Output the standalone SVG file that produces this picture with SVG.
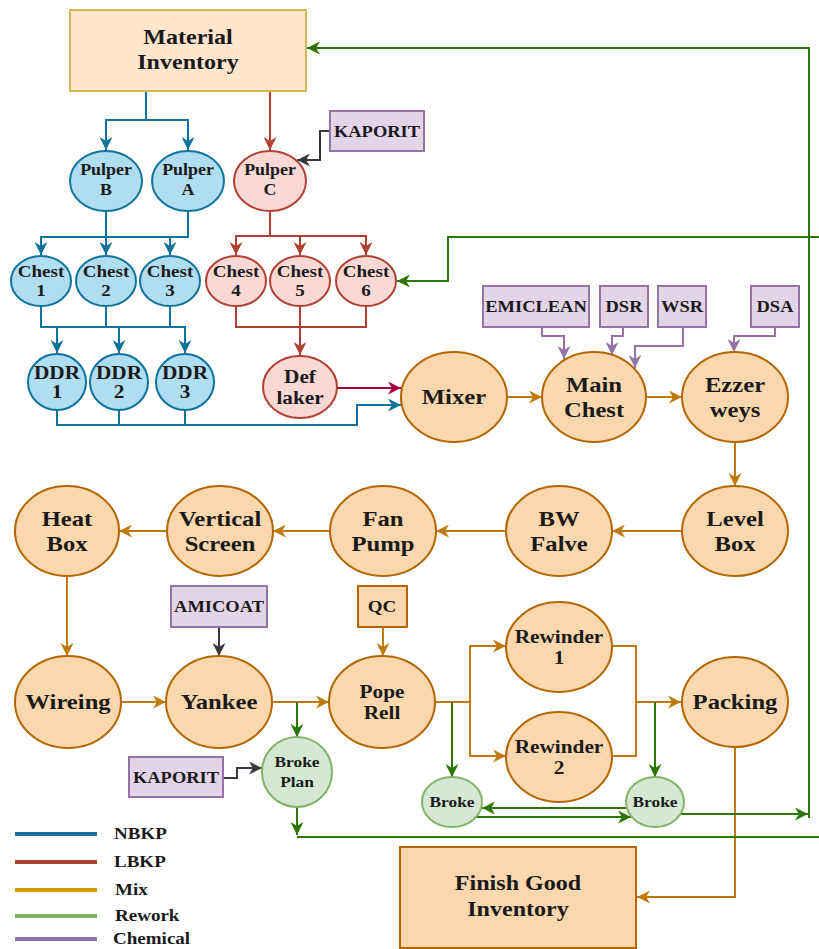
<svg xmlns="http://www.w3.org/2000/svg" width="819" height="949" viewBox="0 0 819 949">
<style>
text{font-family:"Liberation Serif","Times New Roman",serif;font-weight:bold;fill:#1a1a1a;text-anchor:middle}
.or{fill:#fad7ac;stroke:#b46504;stroke-width:2}
.bl{fill:#b1ddf0;stroke:#10739e;stroke-width:2}
.rd{fill:#fad9d5;stroke:#ae4132;stroke-width:2}
.gr{fill:#d5e8d4;stroke:#82b366;stroke-width:2}
.pu{fill:#e1d5e7;stroke:#9673a6;stroke-width:2}
.inv{fill:#ffe6cc;stroke:#d6b656;stroke-width:2}
.c{fill:none;stroke-width:2}
.cb{stroke:#10739e}.cr{stroke:#ae4132}.co{stroke:#c07a0c}.cg{stroke:#2d7600}.ck{stroke:#36393d}.cp{stroke:#9673a6}.cm{stroke:#a50040}
.big{font-size:22px}.mid{font-size:19px}.sm{font-size:17px}.pl{font-size:16px}.xs{font-size:15.5px}.ch{font-size:16.5px}
</style>
<defs>
<marker id="aB" markerUnits="userSpaceOnUse" markerWidth="13" markerHeight="13" viewBox="0 0 10 10" refX="10" refY="5" orient="auto"><path d="M0,0 L10,5 L0,10 L3,5z" fill="#10739e"/></marker>
<marker id="aR" markerUnits="userSpaceOnUse" markerWidth="13" markerHeight="13" viewBox="0 0 10 10" refX="10" refY="5" orient="auto"><path d="M0,0 L10,5 L0,10 L3,5z" fill="#ae4132"/></marker>
<marker id="aO" markerUnits="userSpaceOnUse" markerWidth="13" markerHeight="13" viewBox="0 0 10 10" refX="10" refY="5" orient="auto"><path d="M0,0 L10,5 L0,10 L3,5z" fill="#c07a0c"/></marker>
<marker id="aG" markerUnits="userSpaceOnUse" markerWidth="13" markerHeight="13" viewBox="0 0 10 10" refX="10" refY="5" orient="auto"><path d="M0,0 L10,5 L0,10 L3,5z" fill="#2d7600"/></marker>
<marker id="aK" markerUnits="userSpaceOnUse" markerWidth="13" markerHeight="13" viewBox="0 0 10 10" refX="10" refY="5" orient="auto"><path d="M0,0 L10,5 L0,10 L3,5z" fill="#36393d"/></marker>
<marker id="aP" markerUnits="userSpaceOnUse" markerWidth="13" markerHeight="13" viewBox="0 0 10 10" refX="10" refY="5" orient="auto"><path d="M0,0 L10,5 L0,10 L3,5z" fill="#9673a6"/></marker>
<marker id="aM" markerUnits="userSpaceOnUse" markerWidth="13" markerHeight="13" viewBox="0 0 10 10" refX="10" refY="5" orient="auto"><path d="M0,0 L10,5 L0,10 L3,5z" fill="#a50040"/></marker>
</defs>

<g id="connectors">
<path class="c cb" d="M146,91 V120 H106 V150" marker-end="url(#aB)"/>
<path class="c cb" d="M146,120 H188 V150" marker-end="url(#aB)"/>
<path class="c cb" d="M106,211 V237"/>
<path class="c cb" d="M188,211 V237 H41 V255" marker-end="url(#aB)"/>
<path class="c cb" d="M106,237 V255" marker-end="url(#aB)"/>
<path class="c cb" d="M170,237 V255" marker-end="url(#aB)"/>
<path class="c cb" d="M41,306 V327 H185 V353" marker-end="url(#aB)"/>
<path class="c cb" d="M106,306 V327"/>
<path class="c cb" d="M170,306 V327"/>
<path class="c cb" d="M57,327 V353" marker-end="url(#aB)"/>
<path class="c cb" d="M119,327 V353" marker-end="url(#aB)"/>
<path class="c cb" d="M57,410 V425 H357 V405 H401" marker-end="url(#aB)"/>
<path class="c cb" d="M119,410 V425"/>
<path class="c cb" d="M185,410 V425"/>
<path class="c cr" d="M270,91 V150" marker-end="url(#aR)"/>
<path class="c cr" d="M270,211 V236 H236 V255" marker-end="url(#aR)"/>
<path class="c cr" d="M270,236 H366 V255" marker-end="url(#aR)"/>
<path class="c cr" d="M300,236 V255" marker-end="url(#aR)"/>
<path class="c cr" d="M236,306 V327 H366 V306"/>
<path class="c cr" d="M300,306 V355" marker-end="url(#aR)"/>
<path class="c cm" d="M337,388 H401" marker-end="url(#aM)"/>
<path class="c ck" d="M330,131 H320 V160 H297" marker-end="url(#aK)"/>
<path class="c cp" d="M542,327 V336 H564 V359" marker-end="url(#aP)"/>
<path class="c cp" d="M623,327 V336 H612 V355" marker-end="url(#aP)"/>
<path class="c cp" d="M683,327 V346 H635 V368" marker-end="url(#aP)"/>
<path class="c cp" d="M775,327 V336 H734 V352" marker-end="url(#aP)"/>
<path class="c ck" d="M219,627 V656" marker-end="url(#aK)"/>
<path class="c ck" d="M223,778 H237 V768 H262" marker-end="url(#aK)"/>
<path class="c co" d="M507,397 H542" marker-end="url(#aO)"/>
<path class="c co" d="M646,397 H682" marker-end="url(#aO)"/>
<path class="c co" d="M735,442 V486" marker-end="url(#aO)"/>
<path class="c co" d="M682,531 H612" marker-end="url(#aO)"/>
<path class="c co" d="M506,531 H436" marker-end="url(#aO)"/>
<path class="c co" d="M330,531 H273" marker-end="url(#aO)"/>
<path class="c co" d="M167,531 H119" marker-end="url(#aO)"/>
<path class="c co" d="M67,576 V656" marker-end="url(#aO)"/>
<path class="c co" d="M383,627 V656" marker-end="url(#aO)"/>
<path class="c co" d="M121,702 H166" marker-end="url(#aO)"/>
<path class="c co" d="M272,702 H329" marker-end="url(#aO)"/>
<path class="c co" d="M435,702 H470 V646 H506" marker-end="url(#aO)"/>
<path class="c co" d="M470,702 V756 H506" marker-end="url(#aO)"/>
<path class="c co" d="M612,646 H636 V756 H612"/>
<path class="c co" d="M636,702 H681" marker-end="url(#aO)"/>
<path class="c co" d="M735,747 V897 H637" marker-end="url(#aO)"/>
<path class="c cg" d="M297,702 V737" marker-end="url(#aG)"/>
<path class="c cg" d="M297,807 V835" marker-end="url(#aG)"/>
<path class="c cg" d="M297,837 H830 V237 H448 V281 H397" marker-end="url(#aG)"/>
<path class="c cg" d="M452,702 V777" marker-end="url(#aG)"/>
<path class="c cg" d="M655,702 V777" marker-end="url(#aG)"/>
<path class="c cg" d="M626,808 H482" marker-end="url(#aG)"/>
<path class="c cg" d="M476,817 H631" marker-end="url(#aG)"/>
<path class="c cg" d="M681,814 H808" marker-end="url(#aG)"/>
<path class="c cg" d="M809,818 V48 H307" marker-end="url(#aG)"/>
</g>

<g id="material-inventory"><rect class="inv" x="70" y="10" width="236" height="81"/>
<text style="font-size:21.5px" transform="translate(188,0) scale(1.12,1)"><tspan x="0" y="44">Material</tspan><tspan x="0" y="69">Inventory</tspan></text></g>

<g id="pulper-b"><ellipse class="bl" cx="106" cy="181" rx="36" ry="30"/><text class="pl" transform="translate(106,0) scale(1.12,1)"><tspan x="0" y="175">Pulper</tspan><tspan x="0" y="195">B</tspan></text></g>
<g id="pulper-a"><ellipse class="bl" cx="188" cy="181" rx="36" ry="30"/><text class="pl" transform="translate(188,0) scale(1.12,1)"><tspan x="0" y="175">Pulper</tspan><tspan x="0" y="195">A</tspan></text></g>
<g id="pulper-c"><ellipse class="rd" cx="270" cy="181" rx="36" ry="30"/><text class="pl" transform="translate(270,0) scale(1.12,1)"><tspan x="0" y="175">Pulper</tspan><tspan x="0" y="195">C</tspan></text></g>
<g id="kaporit-1"><rect class="pu" x="330" y="111" width="94" height="40"/><text class="ch" transform="translate(377,0) scale(1.12,1)" x="0" y="137">KAPORIT</text></g>

<g id="chest-1"><ellipse class="bl" cx="41" cy="281" rx="30" ry="25"/><text class="sm" transform="translate(41,0) scale(1.12,1)"><tspan x="0" y="277">Chest</tspan><tspan x="0" y="296">1</tspan></text></g>
<g id="chest-2"><ellipse class="bl" cx="106" cy="281" rx="30" ry="25"/><text class="sm" transform="translate(106,0) scale(1.12,1)"><tspan x="0" y="277">Chest</tspan><tspan x="0" y="296">2</tspan></text></g>
<g id="chest-3"><ellipse class="bl" cx="170" cy="281" rx="30" ry="25"/><text class="sm" transform="translate(170,0) scale(1.12,1)"><tspan x="0" y="277">Chest</tspan><tspan x="0" y="296">3</tspan></text></g>
<g id="chest-4"><ellipse class="rd" cx="236" cy="281" rx="30" ry="25"/><text class="sm" transform="translate(236,0) scale(1.12,1)"><tspan x="0" y="277">Chest</tspan><tspan x="0" y="296">4</tspan></text></g>
<g id="chest-5"><ellipse class="rd" cx="300" cy="281" rx="30" ry="25"/><text class="sm" transform="translate(300,0) scale(1.12,1)"><tspan x="0" y="277">Chest</tspan><tspan x="0" y="296">5</tspan></text></g>
<g id="chest-6"><ellipse class="rd" cx="366" cy="281" rx="30" ry="25"/><text class="sm" transform="translate(366,0) scale(1.12,1)"><tspan x="0" y="277">Chest</tspan><tspan x="0" y="296">6</tspan></text></g>

<g id="ddr-1"><ellipse class="bl" cx="57" cy="382" rx="29" ry="28"/><text class="mid" transform="translate(57,0) scale(1.12,1)"><tspan x="0" y="379">DDR</tspan><tspan x="0" y="398">1</tspan></text></g>
<g id="ddr-2"><ellipse class="bl" cx="119" cy="382" rx="29" ry="28"/><text class="mid" transform="translate(119,0) scale(1.12,1)"><tspan x="0" y="379">DDR</tspan><tspan x="0" y="398">2</tspan></text></g>
<g id="ddr-3"><ellipse class="bl" cx="185" cy="382" rx="29" ry="28"/><text class="mid" transform="translate(185,0) scale(1.12,1)"><tspan x="0" y="379">DDR</tspan><tspan x="0" y="398">3</tspan></text></g>
<g id="def-laker"><ellipse class="rd" cx="300" cy="387" rx="37" ry="31"/><text class="mid" transform="translate(300,0) scale(1.12,1)"><tspan x="0" y="383">Def</tspan><tspan x="0" y="404">laker</tspan></text></g>

<g id="emiclean"><rect class="pu" x="483" y="286" width="106" height="41"/><text class="ch" transform="translate(536,0) scale(1.12,1)" x="0" y="312">EMICLEAN</text></g>
<g id="dsr"><rect class="pu" x="600" y="286" width="48" height="41"/><text class="ch" transform="translate(624,0) scale(1.12,1)" x="0" y="312">DSR</text></g>
<g id="wsr"><rect class="pu" x="658" y="286" width="48" height="41"/><text class="ch" transform="translate(682,0) scale(1.12,1)" x="0" y="312">WSR</text></g>
<g id="dsa"><rect class="pu" x="751" y="286" width="48" height="41"/><text class="ch" transform="translate(775,0) scale(1.12,1)" x="0" y="312">DSA</text></g>

<g id="mixer"><ellipse class="or" cx="454" cy="397" rx="53" ry="45"/><text class="big" transform="translate(454,0) scale(1.12,1)" x="0" y="404">Mixer</text></g>
<g id="main-chest"><ellipse class="or" cx="594" cy="397" rx="52" ry="45"/><text class="big" transform="translate(594,0) scale(1.12,1)"><tspan x="0" y="392">Main</tspan><tspan x="0" y="417">Chest</tspan></text></g>
<g id="ezzer-weys"><ellipse class="or" cx="735" cy="397" rx="53" ry="45"/><text class="big" transform="translate(735,0) scale(1.12,1)"><tspan x="0" y="392">Ezzer</tspan><tspan x="0" y="417">weys</tspan></text></g>
<g id="level-box"><ellipse class="or" cx="735" cy="531" rx="53" ry="45"/><text class="big" transform="translate(735,0) scale(1.12,1)"><tspan x="0" y="526">Level</tspan><tspan x="0" y="551">Box</tspan></text></g>
<g id="bw-falve"><ellipse class="or" cx="559" cy="531" rx="53" ry="45"/><text class="big" transform="translate(559,0) scale(1.12,1)"><tspan x="0" y="526">BW</tspan><tspan x="0" y="551">Falve</tspan></text></g>
<g id="fan-pump"><ellipse class="or" cx="383" cy="531" rx="53" ry="45"/><text class="big" transform="translate(383,0) scale(1.12,1)"><tspan x="0" y="526">Fan</tspan><tspan x="0" y="551">Pump</tspan></text></g>
<g id="vertical-screen"><ellipse class="or" cx="220" cy="531" rx="53" ry="45"/><text class="big" transform="translate(220,0) scale(1.12,1)"><tspan x="0" y="526">Vertical</tspan><tspan x="0" y="551">Screen</tspan></text></g>
<g id="heat-box"><ellipse class="or" cx="67" cy="531" rx="52" ry="45"/><text class="big" transform="translate(67,0) scale(1.12,1)"><tspan x="0" y="526">Heat</tspan><tspan x="0" y="551">Box</tspan></text></g>

<g id="amicoat"><rect class="pu" x="171" y="586" width="96" height="41"/><text class="ch" transform="translate(219,0) scale(1.12,1)" x="0" y="612">AMICOAT</text></g>
<g id="qc"><rect class="or" x="358" y="586" width="49" height="41"/><text class="sm" transform="translate(382,0) scale(1.12,1)" x="0" y="612">QC</text></g>

<g id="wireing"><ellipse class="or" cx="68" cy="702" rx="53" ry="46"/><text class="big" transform="translate(68,0) scale(1.12,1)" x="0" y="709">Wireing</text></g>
<g id="yankee"><ellipse class="or" cx="219" cy="702" rx="53" ry="46"/><text class="big" transform="translate(219,0) scale(1.12,1)" x="0" y="709">Yankee</text></g>
<g id="pope-rell"><ellipse class="or" cx="382" cy="702" rx="53" ry="46"/><text class="mid" transform="translate(382,0) scale(1.12,1)"><tspan x="0" y="698">Pope</tspan><tspan x="0" y="719">Rell</tspan></text></g>
<g id="rewinder-1"><ellipse class="or" cx="559" cy="647" rx="53" ry="45"/><text class="mid" transform="translate(559,0) scale(1.12,1)"><tspan x="0" y="643">Rewinder</tspan><tspan x="0" y="664">1</tspan></text></g>
<g id="rewinder-2"><ellipse class="or" cx="559" cy="757" rx="53" ry="45"/><text class="mid" transform="translate(559,0) scale(1.12,1)"><tspan x="0" y="753">Rewinder</tspan><tspan x="0" y="774">2</tspan></text></g>
<g id="packing"><ellipse class="or" cx="735" cy="702" rx="53" ry="45"/><text class="big" transform="translate(735,0) scale(1.12,1)" x="0" y="709">Packing</text></g>

<g id="broke-plan"><ellipse class="gr" cx="297" cy="772" rx="35" ry="35"/><text class="xs" transform="translate(297,0) scale(1.12,1)"><tspan x="0" y="767">Broke</tspan><tspan x="0" y="787">Plan</tspan></text></g>
<g id="kaporit-2"><rect class="pu" x="129" y="757" width="94" height="40"/><text class="ch" transform="translate(176,0) scale(1.12,1)" x="0" y="783">KAPORIT</text></g>
<g id="broke-1"><ellipse class="gr" cx="452" cy="802" rx="30" ry="25"/><text class="xs" transform="translate(452,0) scale(1.12,1)" x="0" y="807">Broke</text></g>
<g id="broke-2"><ellipse class="gr" cx="655" cy="802" rx="29" ry="25"/><text class="xs" transform="translate(655,0) scale(1.12,1)" x="0" y="807">Broke</text></g>

<g id="finish-good-inventory"><rect class="or" x="400" y="847" width="236" height="101"/><text style="font-size:21.5px" transform="translate(518,0) scale(1.12,1)"><tspan x="0" y="890">Finish Good</tspan><tspan x="0" y="916">Inventory</tspan></text></g>

<g id="legend">
<line x1="15" y1="834" x2="97" y2="834" stroke="#1a6fa0" stroke-width="4"/>
<line x1="15" y1="862" x2="97" y2="862" stroke="#ae4132" stroke-width="4"/>
<line x1="15" y1="890" x2="97" y2="890" stroke="#d79b00" stroke-width="4"/>
<line x1="15" y1="916" x2="97" y2="916" stroke="#82b366" stroke-width="4"/>
<line x1="15" y1="939" x2="97" y2="939" stroke="#9673a6" stroke-width="4"/>
<g style="font-size:17px">
<text style="text-anchor:start" transform="translate(114,0) scale(1.12,1)" x="0" y="839">NBKP</text>
<text style="text-anchor:start" transform="translate(114,0) scale(1.12,1)" x="0" y="867">LBKP</text>
<text style="text-anchor:start" transform="translate(115,0) scale(1.12,1)" x="0" y="895">Mix</text>
<text style="text-anchor:start" transform="translate(115,0) scale(1.12,1)" x="0" y="921">Rework</text>
<text style="text-anchor:start" transform="translate(113,0) scale(1.12,1)" x="0" y="944">Chemical</text>
</g>
</g>
</svg>
